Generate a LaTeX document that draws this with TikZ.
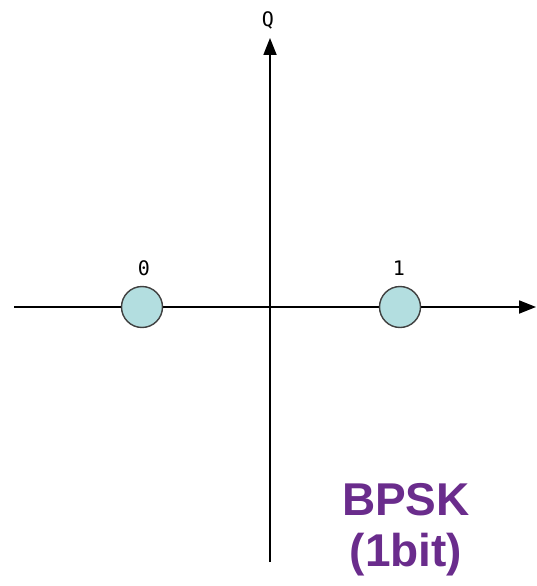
\documentclass[tikz,border=0pt]{standalone}
\usepackage{fontspec}
\setmainfont{Liberation Sans}
\newfontfamily\monofont{DejaVu Sans Mono}
\usetikzlibrary{arrows.meta}
\definecolor{pointfill}{HTML}{B3DEE0}
\definecolor{labelpurple}{HTML}{6A2C8C}
\tikzset{
  axis/.style={line width=1.8pt, -{Triangle[length=17pt,width=13pt]}},
  symbol/.style={circle, draw=black!75, line width=1.4pt, fill=pointfill, minimum size=41pt, inner sep=0pt},
  bitlabel/.style={font=\monofont\fontsize{20}{20}\selectfont},
  title/.style={font=\bfseries\fontsize{46}{51}\selectfont, text=labelpurple, align=center}
}
\begin{document}
\begin{tikzpicture}[x=1pt,y=-1pt]
  \useasboundingbox (0,0) rectangle (536,586);
  % axes
  \coordinate (xs) at (14,307);
  \coordinate (xe) at (536,307);
  \coordinate (ys) at (270,562);
  \coordinate (ye) at (270,38);
  \draw[axis] (xs) -- (xe);
  \draw[axis] (ys) -- (ye);
  \node[bitlabel] (q) at (268,20) {Q};
  % constellation points
  \node[symbol] (p0) at (142,307) {};
  \node[symbol] (p1) at (400,307) {};
  \node[bitlabel] (l0) at (144,268) {0};
  \node[bitlabel] (l1) at (399,268) {1};
  % caption
  \node[title] (cap) at (406,530) {BPSK\\(1bit)};
\end{tikzpicture}
\end{document}
